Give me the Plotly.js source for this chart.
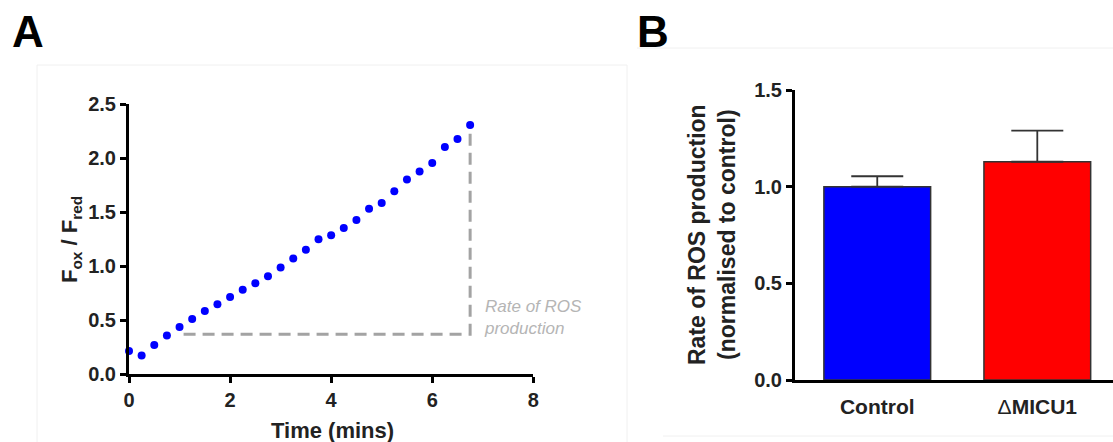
<!DOCTYPE html>
<html>
<head>
<meta charset="utf-8">
<script src="https://cdn.plot.ly/plotly-3.0.1.min.js"></script>
<style>html,body{margin:0;padding:0;background:#fff;}#chart{width:1113px;height:442px;}</style>
</head>
<body>
<div id="chart"></div>
<script>
// Panel A data
const timeMins = [0,0.25,0.5,0.75,1,1.25,1.5,1.75,2,2.25,2.5,2.75,3,3.25,3.5,3.75,4,4.25,4.5,4.75,5,5.25,5.5,5.75,6,6.25,6.5,6.75];
const ratio = [0.216,0.173,0.271,0.358,0.438,0.512,0.586,0.648,0.715,0.783,0.842,0.907,0.987,1.070,1.153,1.249,1.286,1.354,1.428,1.532,1.585,1.693,1.801,1.875,1.955,2.103,2.177,2.306];
const rateGuideX = [1.08, 6.75, 6.75];
const rateGuideY = [0.37, 0.37, 2.23];
const xTicksA = [0,2,4,6,8];
const yTicksA = [0,0.5,1,1.5,2,2.5];
// Panel B data
const groups = ['Control', '\u0394MICU1'];
const rates = [1.0, 1.129];
const semUp = [0.054, 0.161];
const semDown = [0, 0];
const yTicksB = [0,0.5,1,1.5];

const W = 1113, H = 442;
const px = v => v / W;
const py = v => 1 - v / H;
const FONT = 'Liberation Sans, Arial, sans-serif';

const groupLabels = groups.map(g => g.replace('\u0394', '<span style="font-weight:normal">\u0394</span>'));

const traces = [
  {x: rateGuideX, y: rateGuideY, type: 'scatter', mode: 'lines', xaxis: 'x', yaxis: 'y',
   line: {color: '#a3a3a3', width: 3, dash: '12px,7px'}, hoverinfo: 'skip', cliponaxis: false},
  {x: timeMins, y: ratio, type: 'scatter', mode: 'markers', xaxis: 'x', yaxis: 'y',
   marker: {color: '#0000ff', size: 8}, cliponaxis: false},
  {x: groups, y: rates, type: 'bar', xaxis: 'x2', yaxis: 'y2', width: 0.667,
   marker: {color: ['#0000ff', '#ff0000'], line: {color: '#333', width: 1.5}},
   error_y: {type: 'data', symmetric: false, array: semUp, arrayminus: semDown,
             color: '#333', thickness: 1.8, width: 26}}
];

const axisCommon = {showline: true, linecolor: '#000', linewidth: 3, ticks: 'outside',
  ticklen: 6, tickwidth: 3, tickcolor: '#000', showgrid: false, zeroline: false,
  tickfont: {family: FONT, size: 20, color: '#222', weight: 700}, fixedrange: true};

const layout = {
  width: W, height: H, margin: {l: 0, r: 0, t: 0, b: 0},
  paper_bgcolor: '#fff', plot_bgcolor: 'rgba(0,0,0,0)', showlegend: false,
  font: {family: FONT, color: '#222'},
  xaxis: Object.assign({}, axisCommon, {domain: [px(129), px(533.3)], range: [0, 8],
    tickvals: xTicksA, anchor: 'y'}),
  yaxis: Object.assign({}, axisCommon, {domain: [py(374.3), py(104)], range: [0, 2.5],
    tickvals: yTicksA, tickformat: '.1f', anchor: 'x'}),
  xaxis2: Object.assign({}, axisCommon, {domain: [px(795), 1], range: [-0.514, 1.473],
    ticks: '', anchor: 'y2', type: 'category', ticklabelstandoff: 6,
    tickvals: groups, ticktext: groupLabels,
    tickfont: {family: FONT, size: 21, color: '#222', weight: 700}}),
  yaxis2: Object.assign({}, axisCommon, {domain: [py(380), py(90)], range: [0, 1.5],
    tickvals: yTicksB, tickformat: '.1f', anchor: 'x2'}),
  shapes: [
    {type: 'line', xref: 'paper', yref: 'paper', x0: px(37), x1: px(37), y0: py(65), y1: 0, line: {color: '#f0f0f0', width: 1}},
    {type: 'line', xref: 'paper', yref: 'paper', x0: px(37), x1: px(627), y0: py(65), y1: py(65), line: {color: '#f0f0f0', width: 1}},
    {type: 'line', xref: 'paper', yref: 'paper', x0: px(627), x1: px(627), y0: py(65), y1: 0, line: {color: '#f0f0f0', width: 1}},
    {type: 'line', xref: 'paper', yref: 'paper', x0: px(637), x1: 1, y0: py(48), y1: py(48), line: {color: '#f0f0f0', width: 1}},
    {type: 'line', xref: 'paper', yref: 'paper', x0: px(663), x1: 1, y0: py(436), y1: py(436), line: {color: '#f0f0f0', width: 1}}
  ],
  annotations: [
    {text: '<b>A</b>', xref: 'paper', yref: 'paper', x: px(27.5), y: py(32), xanchor: 'center', yanchor: 'middle',
     showarrow: false, font: {family: FONT, size: 44, color: '#000'}},
    {text: '<b>B</b>', xref: 'paper', yref: 'paper', x: px(653), y: py(32), xanchor: 'center', yanchor: 'middle',
     showarrow: false, font: {family: FONT, size: 44, color: '#000'}},
    {text: '<i>Rate of ROS<br>production</i>', xref: 'x', yref: 'y', x: 6.98, y: 0.53, xanchor: 'left', yanchor: 'middle',
     align: 'left', showarrow: false, font: {family: FONT, size: 17, color: '#b5b5b5'}},
    {text: '<b>Time (mins)</b>', xref: 'paper', yref: 'paper', x: px(332.5), y: py(430), xanchor: 'center', yanchor: 'middle',
     showarrow: false, font: {family: FONT, size: 22, color: '#222'}},
    {text: '<b>F<sub>ox</sub> / F<sub>red</sub></b>', xref: 'paper', yref: 'paper', x: px(71), y: py(240), xanchor: 'center', yanchor: 'middle',
     textangle: -90, showarrow: false, font: {family: FONT, size: 22, color: '#222'}},
    {text: '<b>Rate of ROS production<br>(normalised to control)</b>', xref: 'paper', yref: 'paper', x: px(712), y: py(235),
     xanchor: 'center', yanchor: 'middle', textangle: -90, showarrow: false, font: {family: FONT, size: 23, color: '#222'}}
  ]
};

Plotly.newPlot('chart', traces, layout, {displayModeBar: false, staticPlot: true});
</script>
</body>
</html>
